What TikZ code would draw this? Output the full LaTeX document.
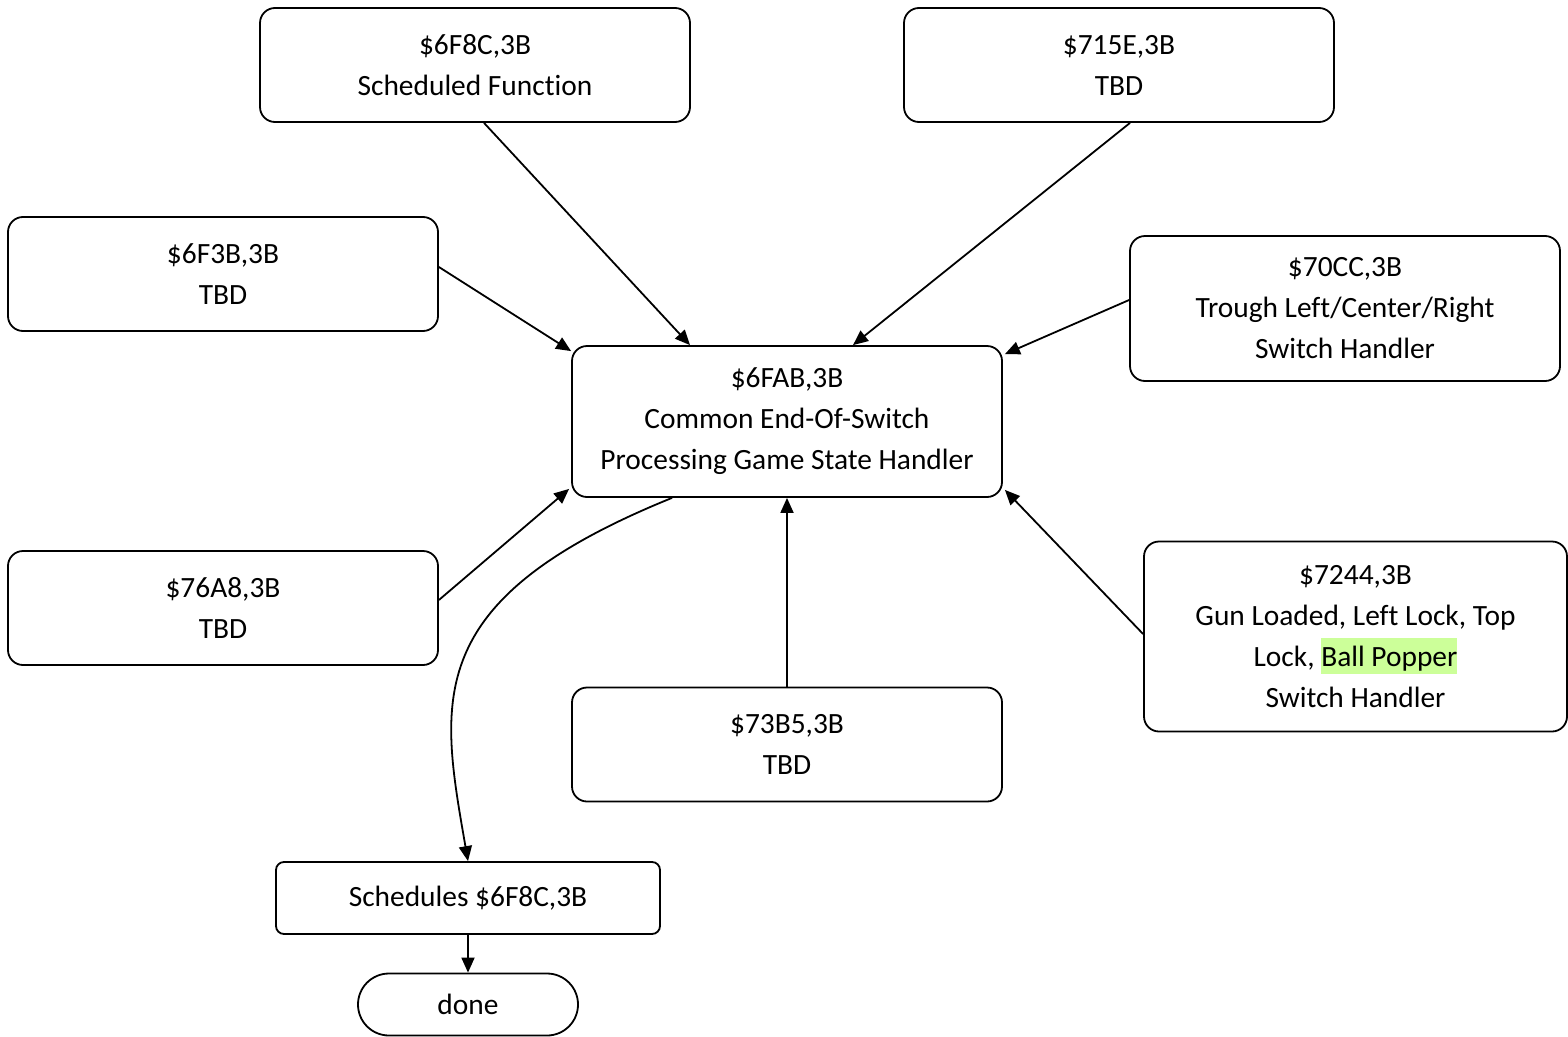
\documentclass[tikz,border=0pt]{standalone}
\usepackage{fontspec}
\setmainfont{Carlito}[Ligatures=NoCommon]
\usetikzlibrary{arrows.meta}
\definecolor{hlgreen}{HTML}{CCFF99}
\newcommand{\hilite}[1]{{\setlength{\fboxsep}{0pt}\colorbox{hlgreen}{\rule[-8pt]{0pt}{36pt}#1}}}
\begin{document}
\begin{tikzpicture}[x=1pt,y=-1pt,
  every node/.style={font=\fontsize{29.4}{41}\selectfont, align=center, inner sep=0pt},
  fnbox/.style={draw, line width=1.8pt, rounded corners=15pt, minimum width=430pt, minimum height=114pt},
  plainbox/.style={draw, line width=1.8pt, rounded corners=8pt, minimum width=384pt, minimum height=72pt},
  endbox/.style={draw, line width=1.8pt, rounded corners=31pt, minimum width=220pt, minimum height=62pt},
  arr/.style={line width=1.8pt, -{Triangle[length=15pt,width=13pt]}}]
\useasboundingbox (0,0) rectangle (1568,1036);

% routine boxes
\node[fnbox] (sched) at (475,65) {\$6F8C,3B\\Scheduled Function};
\node[fnbox] (f715e) at (1119,65) {\$715E,3B\\TBD};
\node[fnbox] (f6f3b) at (223,274) {\$6F3B,3B\\TBD};
\node[fnbox, minimum height=145pt] (trough) at (1345,308.5) {\$70CC,3B\\Trough Left/Center/Right\\Switch Handler};
\node[fnbox, minimum height=151pt] (main) at (787,421.5) {\$6FAB,3B\\Common End-Of-Switch\\Processing Game State Handler};
\node[fnbox] (f76a8) at (223,608) {\$76A8,3B\\TBD};
\node[fnbox] (f73b5) at (787,744.5) {\$73B5,3B\\TBD};
\node[fnbox, minimum width=423pt, minimum height=190pt] (gun) at (1355.5,636.5)
  {\$7244,3B\\Gun Loaded, Left Lock, Top\\Lock, \hilite{Ball Popper}\\Switch Handler};
\node[plainbox] (schedules) at (468,898) {Schedules \$6F8C,3B};
\node[endbox] (done) at (468,1004.5) {done};

% callers into the common handler
\draw[arr] ([xshift=9pt]sched.south) -- ([xshift=-97pt]main.north);
\draw[arr] ([xshift=11pt]f715e.south) -- ([xshift=66pt]main.north);
\draw[arr] ([yshift=7pt]f6f3b.east) -- ([yshift=-6pt]main.north west);
\draw[arr] ([yshift=8.5pt]trough.west) -- ([xshift=2pt,yshift=-9pt]main.north east);
\draw[arr] ([yshift=8pt]f76a8.east) -- ([xshift=-2pt,yshift=9pt]main.south west);
\draw[arr] (f73b5.north) -- (main.south);
\draw[arr] ([yshift=2.5pt]gun.west) -- ([xshift=2pt,yshift=8pt]main.south east);

% exit path
\draw[arr] ([xshift=-115pt]main.south) .. controls (420,600) and (440,700) .. (schedules.north);
\draw[arr] (schedules.south) -- (done.north);
\end{tikzpicture}
\end{document}
